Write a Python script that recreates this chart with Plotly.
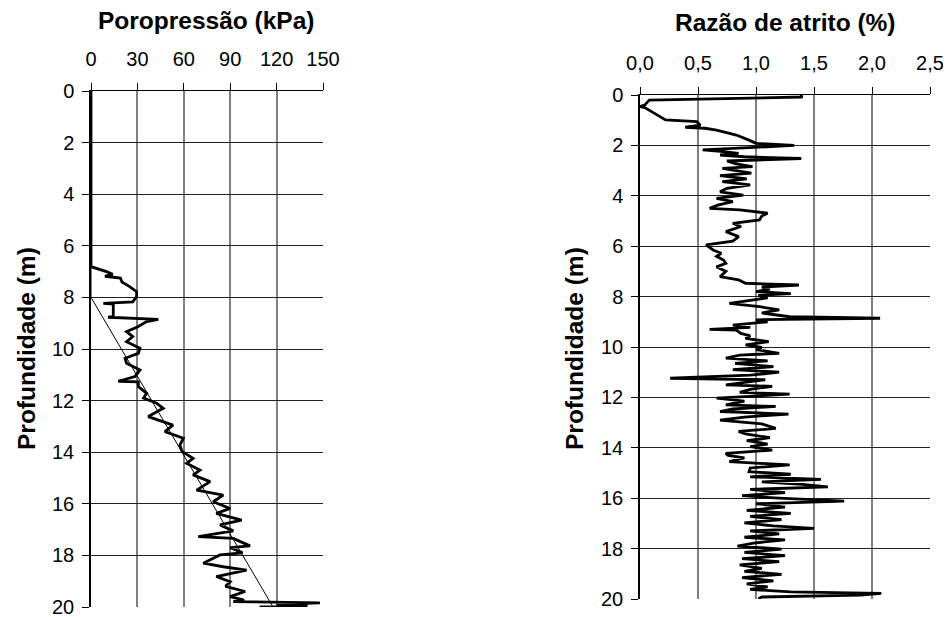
import plotly.graph_objects as go

# Poropressão (kPa) x profundidade (m)
prof_u = [0.00, 6.81, 7.00, 7.10, 7.18, 7.25, 7.40, 7.58, 7.78, 7.97,
          8.17, 8.23, 8.26, 8.50, 8.75, 8.77, 8.85, 8.94, 9.13, 9.33,
          9.52, 9.72, 9.97, 10.17, 10.36, 10.55, 10.81, 11.07, 11.25, 11.27,
          11.46, 11.72, 11.90, 12.10, 12.30, 12.62, 12.82, 12.95, 13.20, 13.46,
          13.72, 13.97, 14.24, 14.43, 14.70, 14.88, 15.14, 15.47, 15.66, 15.92,
          16.18, 16.37, 16.63, 16.82, 17.05, 17.27, 17.34, 17.63, 17.70, 17.90,
          17.98, 18.30, 18.44, 18.57, 18.82, 19.02, 19.20, 19.40, 19.60, 19.73,
          19.79, 19.84, 19.90, 19.95, 20.00]
poropressao = [0.0, 0.0, 10.0, 14.0, 9.0, 19.0, 20.0, 25.0, 29.5, 29.5,
               27.0, 8.0, 14.4, 14.4, 14.4, 11.0, 43.5, 36.0, 30.6, 23.0,
               27.0, 23.0, 31.7, 30.6, 22.0, 23.0, 31.7, 28.4, 17.7, 30.6,
               30.6, 36.0, 34.0, 42.4, 46.7, 37.0, 46.7, 53.0, 47.8, 59.7,
               57.5, 58.8, 66.0, 61.8, 70.5, 66.0, 77.0, 68.3, 85.5, 79.0,
               90.0, 81.0, 97.4, 83.4, 92.0, 69.4, 92.0, 102.8, 90.0, 98.0,
               83.4, 72.6, 85.5, 100.6, 81.0, 90.0, 87.0, 99.6, 90.0, 99.0,
               92.0, 148.0, 120.0, 140.0, 109.0]

# linha hidrostática
prof_hidro = [0.0, 8.0, 20.0]
u_hidro = [0.0, 0.0, 117.7]

# Razão de atrito (%) x profundidade (m)
prof_rf = [0.00, 0.08, 0.20, 0.40, 0.46, 0.50, 0.66, 0.86, 0.99, 1.06,
           1.20, 1.28, 1.32, 1.39, 1.59, 1.79, 1.92, 2.00, 2.10, 2.18,
           2.25, 2.32, 2.38, 2.45, 2.52, 2.62, 2.72, 2.84, 2.91, 3.00,
           3.10, 3.20, 3.33, 3.44, 3.57, 3.70, 3.84, 3.97, 4.10, 4.23,
           4.37, 4.50, 4.56, 4.69, 4.80, 4.96, 5.09, 5.22, 5.42, 5.62,
           5.80, 5.95, 6.15, 6.28, 6.40, 6.55, 6.68, 6.82, 7.00, 7.21,
           7.34, 7.47, 7.54, 7.62, 7.70, 7.80, 7.88, 7.95, 8.05, 8.15,
           8.27, 8.40, 8.53, 8.65, 8.80, 8.86, 8.92, 9.00, 9.13, 9.22,
           9.30, 9.33, 9.46, 9.56, 9.66, 9.79, 9.92, 10.02, 10.10, 10.25,
           10.32, 10.44, 10.55, 10.65, 10.78, 10.90, 11.00, 11.12, 11.24, 11.30,
           11.40, 11.50, 11.56, 11.68, 11.80, 11.87, 12.03, 12.15, 12.30, 12.36,
           12.46, 12.56, 12.66, 12.78, 12.90, 13.05, 13.23, 13.35, 13.45, 13.60,
           13.72, 13.85, 13.95, 14.09, 14.22, 14.30, 14.40, 14.55, 14.68, 14.80,
           14.95, 15.05, 15.15, 15.25, 15.35, 15.45, 15.55, 15.65, 15.78, 15.90,
           16.00, 16.12, 16.22, 16.35, 16.48, 16.60, 16.72, 16.85, 16.98, 17.10,
           17.20, 17.30, 17.42, 17.55, 17.65, 17.78, 17.90, 18.02, 18.15, 18.28,
           18.40, 18.52, 18.65, 18.78, 18.90, 19.02, 19.15, 19.28, 19.40, 19.52,
           19.62, 19.72, 19.78, 19.85, 19.92, 20.00]
razao_atrito = [1.38, 1.40, 0.08, 0.04, 0.00, 0.04, 0.10, 0.17, 0.22, 0.49,
                0.52, 0.39, 0.56, 0.66, 0.83, 0.94, 1.00, 1.33, 0.95, 0.54,
                0.72, 0.85, 0.69, 0.90, 1.39, 0.75, 0.82, 0.97, 0.71, 0.85,
                0.96, 0.69, 0.92, 0.71, 0.95, 0.75, 0.69, 0.89, 0.66, 0.80,
                0.67, 0.60, 0.86, 1.10, 1.05, 1.03, 0.80, 0.87, 0.74, 0.85,
                0.80, 0.57, 0.63, 0.70, 0.66, 0.72, 0.74, 0.66, 0.74, 0.69,
                0.85, 0.91, 1.37, 1.05, 1.12, 1.00, 1.30, 1.02, 1.10, 0.95,
                0.77, 1.03, 1.20, 1.05, 1.29, 2.07, 1.00, 1.10, 0.80, 0.95,
                0.60, 0.83, 0.87, 0.95, 0.91, 1.11, 0.91, 1.05, 1.00, 1.20,
                0.86, 0.74, 1.10, 0.82, 1.15, 0.80, 1.20, 0.95, 0.26, 1.08,
                0.90, 0.74, 1.14, 0.95, 0.86, 1.29, 0.66, 0.90, 0.74, 1.17,
                0.80, 0.69, 1.28, 0.90, 0.69, 1.05, 1.17, 0.85, 0.91, 1.12,
                0.92, 1.10, 0.95, 1.14, 0.74, 0.76, 0.90, 0.77, 1.29, 0.95,
                0.94, 1.30, 0.95, 1.56, 1.05, 1.40, 1.62, 0.95, 1.25, 0.88,
                1.20, 1.76, 1.00, 1.25, 0.92, 1.30, 0.95, 1.22, 0.90, 1.15,
                1.50, 0.95, 1.20, 0.90, 1.25, 0.98, 0.84, 1.22, 0.90, 1.25,
                0.88, 1.20, 0.86, 1.05, 0.90, 1.22, 0.88, 1.15, 0.92, 1.10,
                0.95, 1.30, 2.08, 1.90, 1.05, 1.02]

fonte = "Arial, Liberation Sans, sans-serif"
# a página tem 8px de margem no body
OFF = 8
W, H = 951 - OFF, 617 - OFF


def px_x(p):
    return (p - OFF) / W


def px_y(p):
    return 1 - (p - OFF) / H


fig = go.Figure()
fig.add_trace(go.Scatter(x=u_hidro, y=prof_hidro, mode="lines",
                         line=dict(color="black", width=1), xaxis="x", yaxis="y"))
fig.add_trace(go.Scatter(x=poropressao, y=prof_u, mode="lines",
                         line=dict(color="black", width=2.8), xaxis="x", yaxis="y"))
fig.add_trace(go.Scatter(x=razao_atrito, y=prof_rf, mode="lines",
                         line=dict(color="black", width=2.8), xaxis="x2", yaxis="y2"))

eixo_x = dict(side="top", showline=True, linecolor="black", linewidth=1,
              showgrid=True, gridcolor="#808080", gridwidth=1.5, automargin=False,
              ticks="outside", ticklen=7, tickcolor="black", ticklabeloverflow="allow",
              ticklabelstandoff=9,
              tickfont=dict(size=20, color="black", family=fonte), zeroline=False)
eixo_y = dict(autorange=False, range=[20, 0], dtick=2, showline=True, linecolor="black",
              linewidth=1.5, showgrid=True, gridcolor="#202020", gridwidth=1,
              automargin=False, ticks="outside", ticklen=7, tickcolor="black",
              ticklabeloverflow="allow", ticklabelstandoff=4,
              tickfont=dict(size=20, color="black", family=fonte), zeroline=False)

rotulo = dict(xref="paper", yref="paper", showarrow=False, xanchor="center", yanchor="middle",
              font=dict(size=24.5, family=fonte))

fig.update_layout(
    width=W, height=H, margin=dict(l=0, r=0, t=0, b=0),
    paper_bgcolor="white", plot_bgcolor="white", showlegend=False,
    separators=",.",
    font=dict(family=fonte, color="black"),
    xaxis=dict(eixo_x, domain=[px_x(91), px_x(323)], range=[0, 150], dtick=30, anchor="y"),
    yaxis=dict(eixo_y, domain=[px_y(607), px_y(91)], anchor="x"),
    xaxis2=dict(eixo_x, domain=[px_x(640), px_x(930)], range=[0, 2.5], dtick=0.5,
                tickformat=".1f", anchor="y2"),
    yaxis2=dict(eixo_y, domain=[px_y(599), px_y(95)], anchor="x2"),
    annotations=[
        dict(rotulo, text="<b>Poropressão (kPa)</b>", x=px_x(206), y=px_y(21)),
        dict(rotulo, text="<b>Razão de atrito (%)</b>", x=px_x(785), y=px_y(23)),
        dict(rotulo, text="<b>Profundidade (m)</b>", x=px_x(26), y=px_y(349), textangle=-90),
        dict(rotulo, text="<b>Profundidade (m)</b>", x=px_x(574), y=px_y(349), textangle=-90),
    ],
)

fig.write_html("out.html")
